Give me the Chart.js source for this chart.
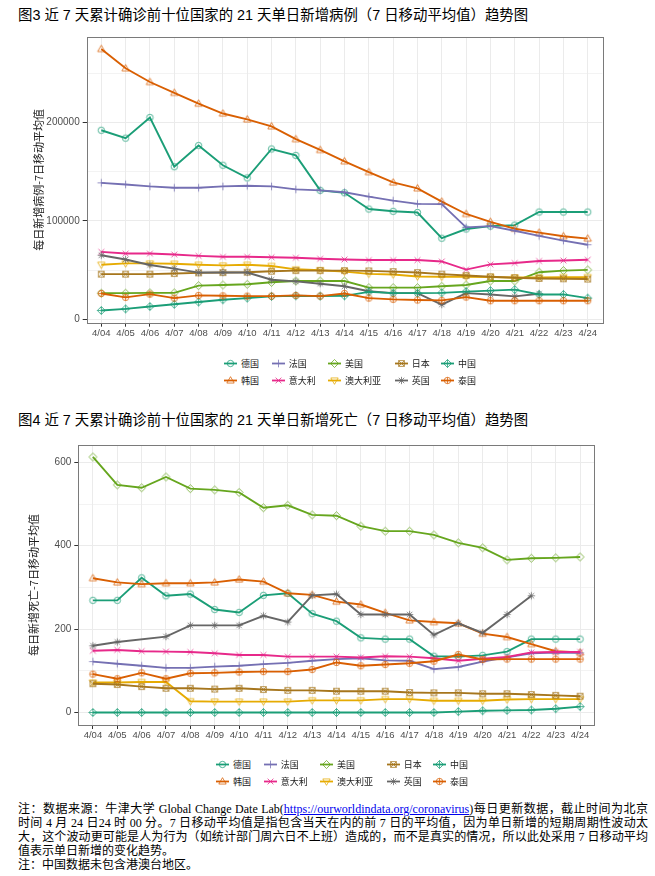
<!DOCTYPE html>
<html><head><meta charset="utf-8">
<script src="https://cdn.jsdelivr.net/npm/chart.js@4.4.1/dist/chart.umd.min.js"></script>
<style>
body{margin:0;background:#fff;width:655px;height:876px;position:relative;overflow:hidden;font-family:"Liberation Sans","Noto Sans CJK SC",sans-serif;}
.title{position:absolute;left:18px;font-size:14.4px;color:#000;white-space:nowrap;line-height:18px;}
canvas.chart{position:absolute;left:0;}
.legend .item{position:absolute;display:flex;align-items:center;white-space:nowrap;height:14px;font-family:"Noto Sans CJK SC",sans-serif;font-size:9px;color:#222;}
.legend .item canvas{margin-right:4px;}
.notes{position:absolute;left:18px;top:802px;width:630px;font-family:"Liberation Serif","Noto Sans CJK SC",serif;font-size:12px;line-height:14px;color:#000;}
.notes div{white-space:nowrap;}
.notes .j{text-align:justify;text-align-last:justify;}
.notes a{color:#0000EE;text-decoration:underline;}
</style>
</head><body>
<div class="title" style="top:6px">图3 近 7 天累计确诊前十位国家的 21 天单日新增病例（7 日移动平均值）趋势图</div>
<canvas id="c1" class="chart" width="655" height="317" style="top:28px"></canvas>
<div id="lg1" class="legend"></div>
<div class="title" style="top:411px">图4 近 7 天累计确诊前十位国家的 21 天单日新增死亡（7 日移动平均值）趋势图</div>
<canvas id="c2" class="chart" width="655" height="312" style="top:436px"></canvas>
<div id="lg2" class="legend"></div>
<div class="notes">
<div class="j">注：数据来源：牛津大学 Global Change Date Lab(<a>https://ourworldindata.org/coronavirus</a>)每日更新数据，截止时间为北京</div>
<div class="j">时间 4 月 24 日24 时 00 分。7 日移动平均值是指包含当天在内的前 7 日的平均值，因为单日新增的短期周期性波动太</div>
<div class="j">大，这个波动更可能是人为行为（如统计部门周六日不上班）造成的，而不是真实的情况，所以此处采用 7 日移动平均</div>
<div>值表示单日新增的变化趋势。</div>
<div>注：中国数据未包含港澳台地区。</div>
</div>
<script>
// ---------- data ----------
const dates = ['4/04','4/05','4/06','4/07','4/08','4/09','4/10','4/11','4/12','4/13','4/14','4/15','4/16','4/17','4/18','4/19','4/20','4/21','4/22','4/23','4/24'];
const countries = ['德国','韩国','法国','意大利','美国','澳大利亚','日本','英国','中国','泰国'];

const casesDE = [192000,184000,205000,155000,176500,156500,143600,173000,166500,131000,128500,112000,109700,108500,82400,91700,94700,95700,109000,109000,109000];
const casesKR = [274500,254900,241000,230000,219000,209000,203000,196000,183000,172000,160500,149500,139000,133000,119600,107000,99000,92000,88000,84400,82000];
const casesFR = [138600,137000,135000,133600,133600,135000,135600,135000,132000,131000,129000,124600,120600,117300,117000,93400,94700,90000,84700,80000,75800];
const casesIT = [68500,66800,66800,65800,64500,63500,63500,63100,62500,61500,60800,60200,60200,60200,58800,50500,55800,57200,59200,59800,60500];
const casesUS = [26600,26600,26900,26900,34200,34900,35600,37600,38900,38900,38900,32200,32200,32200,33600,34900,38900,38900,47900,49500,50200];
const casesAU = [55500,56800,56800,56500,55500,54800,55500,54200,50800,49900,48500,46200,45500,43500,43200,43200,42900,42500,42500,42900,42900];
const casesJP = [45900,45900,45900,46500,47200,47500,47900,48900,49500,49500,49500,49200,48500,47500,45900,44500,43200,42200,41500,41200,40900];
const casesUK = [65100,60800,55200,51500,47500,47500,47500,40200,38600,36200,33600,28600,26600,26600,15000,26600,25300,23300,26000,null,null];
const casesCN = [9000,10600,13000,15300,17600,19900,21600,23300,23900,23600,23900,27900,26600,26600,26900,28200,29200,30200,25300,25300,21600];
const casesTH = [26300,22300,25600,21600,24300,23900,23600,23600,24300,23600,26300,21600,20300,19600,19300,22600,18900,18900,18900,18900,18900];

const deathsDE = [269,269,323,280,284,247,240,281,286,237,219,179,176,176,135,134,137,146,176,176,176];
const deathsKR = [322,312,308,310,310,312,319,314,286,282,266,259,239,221,217,214,189,181,164,147,144];
const deathsFR = [122,117,112,107,107,110,112,116,119,124,128,130,125,124,104,109,122,132,142,144,143];
const deathsIT = [148,150,147,146,145,142,138,138,134,134,134,132,135,134,130,124,129,133,144,145,145];
const deathsUS = [613,546,539,565,537,534,528,491,497,474,472,447,435,435,426,407,395,366,370,371,373];
const deathsAU = [72,72,73,73,27,26,26,26,26,29,29,29,32,32,28,28,28,31,32,32,32];
const deathsJP = [69,67,62,58,58,56,58,55,53,53,51,51,51,48,47,47,45,45,43,41,39];
const deathsUK = [160,169,null,182,209,209,209,232,217,281,284,235,235,235,186,214,191,235,280,null,null];
const deathsCN = [0,0,0,0,0,0,0,0,0,0,0,0,0,0,0,2,4,5,6,9,14];
const deathsTH = [92,81,95,81,94,95,97,98,98,103,120,112,115,118,123,139,127,128,128,128,128];

const caseTicks = [0,100000,200000];
const caseMinorTicks = [50000,150000,250000];
const deathTicks = [0,200,400,600];
const deathMinorTicks = [100,300,500];

// ---------- styles ----------
const colors = ['#1B9E77','#D95F02','#7570B3','#E7298A','#66A61E','#E6AB02','#A6761D','#666666','#1B9E77','#D95F02'];
const shapes = ['circle','triangle','plus','cross','diamond','triangleDown','squareCross','asterisk','diamondPlus','circlePlus'];

function shapeCanvas(kind, color, w, h, withLine) {
  const c = document.createElement('canvas');
  c.width = w; c.height = h;
  const g = c.getContext('2d');
  const mx = w/2, my = h/2, r = 3.2;
  if (withLine) {
    g.strokeStyle = color; g.lineWidth = 1.8;
    g.beginPath(); g.moveTo(0,my); g.lineTo(w,my); g.stroke();
  }
  g.strokeStyle = color; g.globalAlpha = 0.85; g.lineWidth = 0.9;
  g.beginPath();
  const diamond = () => { g.moveTo(mx,my-r*1.25); g.lineTo(mx+r*1.25,my); g.lineTo(mx,my+r*1.25); g.lineTo(mx-r*1.25,my); g.closePath(); };
  const plus = (s) => { g.moveTo(mx-s,my); g.lineTo(mx+s,my); g.moveTo(mx,my-s); g.lineTo(mx,my+s); };
  const cross = (s) => { g.moveTo(mx-s,my-s); g.lineTo(mx+s,my+s); g.moveTo(mx+s,my-s); g.lineTo(mx-s,my+s); };
  switch(kind){
    case 'circle': g.arc(mx,my,r,0,Math.PI*2); break;
    case 'triangle': g.moveTo(mx,my-r*1.2); g.lineTo(mx+r*1.15,my+r*0.8); g.lineTo(mx-r*1.15,my+r*0.8); g.closePath(); break;
    case 'plus': plus(r*1.2); break;
    case 'cross': cross(r*0.9); break;
    case 'diamond': diamond(); break;
    case 'triangleDown': g.moveTo(mx,my+r*1.2); g.lineTo(mx+r*1.15,my-r*0.8); g.lineTo(mx-r*1.15,my-r*0.8); g.closePath(); break;
    case 'squareCross': g.rect(mx-r*0.9,my-r*0.9,r*1.8,r*1.8); cross(r*0.9); break;
    case 'asterisk': plus(r*1.15); cross(r*0.85); break;
    case 'diamondPlus': diamond(); plus(r*1.25); break;
    case 'circlePlus': g.arc(mx,my,r,0,Math.PI*2); plus(r); break;
  }
  g.stroke();
  return c;
}

const pointImgs = shapes.map((s,i) => shapeCanvas(s, colors[i], 11, 11, false));

function makeDatasets(series) {
  return series.map((arr, i) => ({
    label: countries[i],
    data: arr.map((v, k) => ({x: k, y: v})),
    borderColor: colors[i],
    backgroundColor: colors[i],
    borderWidth: 1.9,
    tension: 0,
    fill: false,
    pointStyle: pointImgs[i],
    pointRadius: 3,
    spanGaps: true,
    order: -i
  }));
}

const panelBorder = {
  id: 'panelBorder',
  afterDatasetsDraw(chart) {
    const {ctx, chartArea: a} = chart;
    ctx.save(); ctx.strokeStyle = '#7a7a7a'; ctx.lineWidth = 1;
    ctx.strokeRect(Math.round(a.left)+0.5, Math.round(a.top)+0.5, Math.round(a.right-a.left), Math.round(a.bottom-a.top));
    ctx.restore();
  }
};

function makeChart(id, series, major, minor, ymin, ymax, yTitle, pad, yWidth, xHeight) {
  const allTicks = major.concat(minor).sort((a,b)=>a-b);
  const isMajor = v => major.indexOf(v) >= 0;
  return new Chart(document.getElementById(id), {
    type: 'line',
    data: { datasets: makeDatasets(series) },
    plugins: [panelBorder],
    options: {
      responsive: false, animation: false,
      layout: { padding: pad },
      plugins: { legend: { display: false }, tooltip: { enabled: false } },
      scales: {
        x: {
          type: 'linear', min: -0.6, max: dates.length - 1 + 0.6,
          afterBuildTicks: s => { s.ticks = dates.map((d, i) => ({ value: i })); },
          afterFit: s => { s.height = xHeight; },
          ticks: { callback: v => dates[v], autoSkip: false, maxRotation: 0, minRotation: 0, padding: 1,
                   font: { family: '"Liberation Sans", Arial, sans-serif', size: 9.5 }, color: '#4D4D4D' },
          grid: { color: '#EBEBEB', lineWidth: 1, tickLength: 4, tickColor: '#333333', drawOnChartArea: true },
          border: { display: false }
        },
        y: {
          type: 'linear', min: ymin, max: ymax,
          afterBuildTicks: s => { s.ticks = allTicks.map(v => ({ value: v })); },
          afterFit: s => { s.width = yWidth; },
          ticks: { callback: v => isMajor(v) ? String(v) : '', padding: 3,
                   font: { family: '"Liberation Sans", Arial, sans-serif', size: 10 }, color: '#4D4D4D' },
          grid: {
            color: '#EBEBEB',
            lineWidth: c => (c.tick && isMajor(c.tick.value)) ? 1 : 0.6,
            tickLength: 4,
            tickColor: c => (c.tick && isMajor(c.tick.value)) ? '#333333' : 'rgba(0,0,0,0)'
          },
          border: { display: false },
          title: { display: true, text: yTitle, padding: { top: 0, bottom: 0 },
                   font: { family: '"Noto Sans CJK SC", sans-serif', size: 11 }, color: '#1a1a1a' }
        }
      }
    }
  });
}

makeChart('c1', [casesDE,casesKR,casesFR,casesIT,casesUS,casesAU,casesJP,casesUK,casesCN,casesTH],
  caseTicks, caseMinorTicks, -3400, 286700, '每日新增病例-7日移动平均值',
  { top: 3.7, right: 52.7, left: 32.4, bottom: 0 }, 54.3, 22.3);

makeChart('c2', [deathsDE,deathsKR,deathsFR,deathsIT,deathsUS,deathsAU,deathsJP,deathsUK,deathsCN,deathsTH],
  deathTicks, deathMinorTicks, -30.1, 641.7, '每日新增死亡-7日移动平均值',
  { top: 5.7, right: 60.3, left: 27.4, bottom: 0 }, 50.9, 23);

// ---------- HTML legends (two rows, column-major like the reference) ----------
function buildLegend(id, textX, rowY) {
  const el = document.getElementById(id);
  const cols = [[0,1],[2,3],[4,5],[6,7],[8,9]];
  cols.forEach((pair, ci) => {
    pair.forEach((idx, ri) => {
      const item = document.createElement('div');
      item.className = 'item';
      item.style.left = (textX[ci] - 17) + 'px';
      item.style.top = (rowY[ri] - 7) + 'px';
      item.appendChild(shapeCanvas(shapes[idx], colors[idx], 13, 11, true));
      const sp = document.createElement('span');
      sp.textContent = countries[idx];
      item.appendChild(sp);
      el.appendChild(item);
    });
  });
}
buildLegend('lg1', [241, 288.7, 345, 411.7, 458], [363, 380.7]);
buildLegend('lg2', [233, 280.7, 337, 403.7, 450], [764, 781]);
</script>
</body></html>
